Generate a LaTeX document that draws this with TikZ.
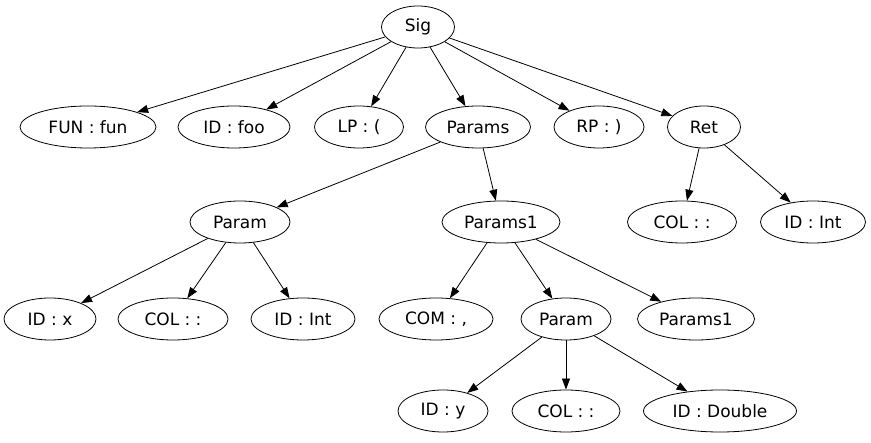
\documentclass[tikz,border=0pt]{standalone}
\usepackage{fontspec}
\setmainfont{DejaVu Sans}
\usetikzlibrary{shapes.geometric,arrows.meta}

\begin{document}
\begin{tikzpicture}[x=1pt, y=-1pt, font=\fontsize{17}{20}\selectfont]
\tikzset{
  tnode/.style={ellipse, draw=black, line width=0.8pt, minimum height=42pt, inner sep=1pt},
  edge/.style={draw=black, line width=0.8pt, -{Triangle[length=11pt, width=8pt]}}
}
\useasboundingbox (0,0) rectangle (871,443);
% row 1
\node[tnode, minimum width=73pt] (sig) at (418,27) {Sig};
% row 2
\node[tnode, minimum width=136pt] (fun) at (88,127) {FUN : fun};
\node[tnode, minimum width=112pt] (idfoo) at (234,127) {ID : foo};
\node[tnode, minimum width=89pt] (lp) at (359,127) {LP : (};
\node[tnode, minimum width=105pt] (params) at (478,127) {Params};
\node[tnode, minimum width=90pt] (rp) at (599,127) {RP : )};
\node[tnode, minimum width=73pt] (ret) at (704,127) {Ret};
% row 3
\node[tnode, minimum width=100pt] (param) at (240,222) {Param};
\node[tnode, minimum width=118pt] (paramsa) at (501,222) {Params1};
\node[tnode, minimum width=109pt] (colr) at (682,222) {COL : :};
\node[tnode, minimum width=105pt] (idintr) at (813,222) {ID : Int};
% row 4
\node[tnode, minimum width=92pt] (idx) at (50,319) {ID : x};
\node[tnode, minimum width=110pt] (colp) at (173,319) {COL : :};
\node[tnode, minimum width=104pt] (idintp) at (303,319) {ID : Int};
\node[tnode, minimum width=114pt] (com) at (436,319) {COM : ,};
\node[tnode, minimum width=90pt] (paramb) at (566,319) {Param};
\node[tnode, minimum width=117pt] (paramsb) at (696,319) {Params1};
% row 5
\node[tnode, minimum width=90pt] (idy) at (443,411) {ID : y};
\node[tnode, minimum width=108pt] (colb) at (566,411) {COL : :};
\node[tnode, minimum width=153pt] (iddouble) at (720,411) {ID : Double};
% edges
\foreach \a/\b in {sig/fun, sig/idfoo, sig/lp, sig/params, sig/rp, sig/ret,
  params/param, params/paramsa, ret/colr, ret/idintr,
  param/idx, param/colp, param/idintp,
  paramsa/com, paramsa/paramb, paramsa/paramsb,
  paramb/idy, paramb/colb, paramb/iddouble}
  \draw[edge] (\a) -- (\b);
\end{tikzpicture}
\end{document}
